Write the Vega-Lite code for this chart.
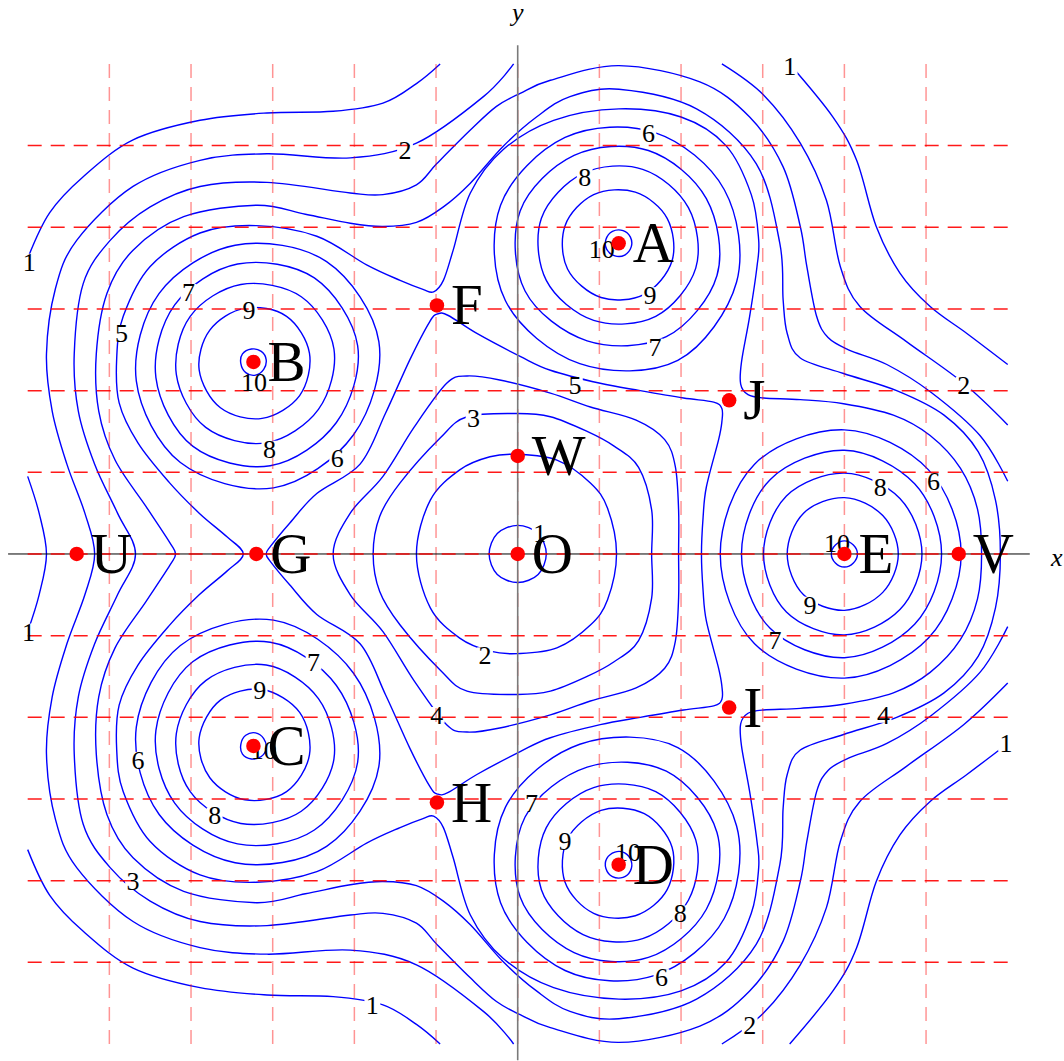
{
  "$schema": "https://vega.github.io/schema/vega-lite/v6.json",
  "width": 1064,
  "height": 1061,
  "padding": 0,
  "autosize": {"type": "none"},
  "background": "white",
  "config": {"view": {"stroke": null}},
  "datasets": {
    "closed": [
      {"c":"r1","x":0.35,"y":0},{"c":"r1","x":0.25,"y":0.25},{"c":"r1","x":0,"y":0.35},{"c":"r1","x":-0.25,"y":0.25},{"c":"r1","x":-0.35,"y":0},{"c":"r1","x":-0.25,"y":-0.25},{"c":"r1","x":0,"y":-0.35},{"c":"r1","x":0.25,"y":-0.25},

      {"c":"r2","x":1.21,"y":0},{"c":"r2","x":1.10,"y":0.56},{"c":"r2","x":0.89,"y":0.87},{"c":"r2","x":0.48,"y":1.15},{"c":"r2","x":0,"y":1.22},{"c":"r2","x":-0.34,"y":1.19},{"c":"r2","x":-0.71,"y":1.03},{"c":"r2","x":-1.07,"y":0.66},{"c":"r2","x":-1.24,"y":0},{"c":"r2","x":-1.07,"y":-0.66},{"c":"r2","x":-0.71,"y":-1.03},{"c":"r2","x":-0.34,"y":-1.19},{"c":"r2","x":0,"y":-1.22},{"c":"r2","x":0.48,"y":-1.15},{"c":"r2","x":0.89,"y":-0.87},{"c":"r2","x":1.10,"y":-0.56},

      {"c":"r3","x":1.64,"y":0},{"c":"r3","x":1.64,"y":0.54},{"c":"r3","x":1.48,"y":1.06},{"c":"r3","x":1.18,"y":1.32},{"c":"r3","x":0.85,"y":1.50},{"c":"r3","x":0.40,"y":1.68},{"c":"r3","x":0,"y":1.72},{"c":"r3","x":-0.62,"y":1.68},{"c":"r3","x":-0.95,"y":1.42},{"c":"r3","x":-1.44,"y":0.87},{"c":"r3","x":-1.69,"y":0.46},{"c":"r3","x":-1.77,"y":0},{"c":"r3","x":-1.69,"y":-0.46},{"c":"r3","x":-1.44,"y":-0.87},{"c":"r3","x":-0.95,"y":-1.42},{"c":"r3","x":-0.62,"y":-1.68},{"c":"r3","x":0,"y":-1.72},{"c":"r3","x":0.40,"y":-1.68},{"c":"r3","x":0.85,"y":-1.50},{"c":"r3","x":1.18,"y":-1.32},{"c":"r3","x":1.48,"y":-1.06},{"c":"r3","x":1.64,"y":-0.54},

      {"c":"r4","x":1.97,"y":0},{"c":"r4","x":1.97,"y":0.54},{"c":"r4","x":1.93,"y":1.07},{"c":"r4","x":1.80,"y":1.40},{"c":"r4","x":1.45,"y":1.64},{"c":"r4","x":0.89,"y":1.80},{"c":"r4","x":0.40,"y":1.97},{"c":"r4","x":-0.22,"y":2.13},{"c":"r4","x":-0.62,"y":2.18},{"c":"r4","x":-0.87,"y":2.09},{"c":"r4","x":-1.27,"y":1.55},{"c":"r4","x":-1.65,"y":0.95},{"c":"r4","x":-2.05,"y":0.50},{"c":"r4","x":-2.26,"y":0},{"c":"r4","x":-2.05,"y":-0.50},{"c":"r4","x":-1.65,"y":-0.95},{"c":"r4","x":-1.27,"y":-1.55},{"c":"r4","x":-0.87,"y":-2.09},{"c":"r4","x":-0.62,"y":-2.18},{"c":"r4","x":-0.22,"y":-2.13},{"c":"r4","x":0.40,"y":-1.97},{"c":"r4","x":0.89,"y":-1.80},{"c":"r4","x":1.45,"y":-1.64},{"c":"r4","x":1.80,"y":-1.40},{"c":"r4","x":1.93,"y":-1.07},{"c":"r4","x":1.97,"y":-0.54},

      {"c":"r5","x":2.25,"y":0},{"c":"r5","x":2.27,"y":0.45},{"c":"r5","x":2.31,"y":0.82},{"c":"r5","x":2.46,"y":1.40},{"c":"r5","x":2.50,"y":1.62},{"c":"r5","x":2.50,"y":1.78},{"c":"r5","x":2.40,"y":1.86},{"c":"r5","x":2.03,"y":1.91},{"c":"r5","x":1.50,"y":2.00},{"c":"r5","x":1.01,"y":2.09},{"c":"r5","x":0.40,"y":2.25},{"c":"r5","x":0.03,"y":2.42},{"c":"r5","x":-0.50,"y":2.70},{"c":"r5","x":-0.85,"y":2.92},{"c":"r5","x":-0.98,"y":2.94},{"c":"r5","x":-1.08,"y":2.84},{"c":"r5","x":-1.32,"y":2.38},{"c":"r5","x":-1.62,"y":1.72},{"c":"r5","x":-1.93,"y":1.10},{"c":"r5","x":-2.46,"y":0.74},{"c":"r5","x":-2.79,"y":0.38},{"c":"r5","x":-3.03,"y":0.09},{"c":"r5","x":-3.08,"y":0},{"c":"r5","x":-3.03,"y":-0.09},{"c":"r5","x":-2.79,"y":-0.38},{"c":"r5","x":-2.46,"y":-0.74},{"c":"r5","x":-1.93,"y":-1.10},{"c":"r5","x":-1.62,"y":-1.72},{"c":"r5","x":-1.32,"y":-2.38},{"c":"r5","x":-1.08,"y":-2.84},{"c":"r5","x":-0.98,"y":-2.94},{"c":"r5","x":-0.85,"y":-2.92},{"c":"r5","x":-0.50,"y":-2.70},{"c":"r5","x":0.03,"y":-2.42},{"c":"r5","x":0.40,"y":-2.25},{"c":"r5","x":1.01,"y":-2.09},{"c":"r5","x":1.50,"y":-2.00},{"c":"r5","x":2.03,"y":-1.91},{"c":"r5","x":2.40,"y":-1.86},{"c":"r5","x":2.50,"y":-1.78},{"c":"r5","x":2.50,"y":-1.62},{"c":"r5","x":2.46,"y":-1.40},{"c":"r5","x":2.31,"y":-0.82},{"c":"r5","x":2.27,"y":-0.45},

      {"c":"o5","x":5.68,"y":0},{"c":"o5","x":5.63,"y":0.55},{"c":"o5","x":5.42,"y":1.05},{"c":"o5","x":5.05,"y":1.45},{"c":"o5","x":4.60,"y":1.70},{"c":"o5","x":3.99,"y":1.84},{"c":"o5","x":3.46,"y":1.89},{"c":"o5","x":3.01,"y":1.91},{"c":"o5","x":2.82,"y":1.95},{"c":"o5","x":2.73,"y":2.08},{"c":"o5","x":2.74,"y":2.35},{"c":"o5","x":2.84,"y":2.91},{"c":"o5","x":2.93,"y":3.52},{"c":"o5","x":2.95,"y":3.85},{"c":"o5","x":2.86,"y":4.40},{"c":"o5","x":2.55,"y":5.00},{"c":"o5","x":2.00,"y":5.35},{"c":"o5","x":1.24,"y":5.45},{"c":"o5","x":0.44,"y":5.31},{"c":"o5","x":-0.18,"y":4.95},{"c":"o5","x":-0.58,"y":4.42},{"c":"o5","x":-0.79,"y":3.72},{"c":"o5","x":-0.91,"y":3.35},{"c":"o5","x":-1.03,"y":3.21},{"c":"o5","x":-1.16,"y":3.24},{"c":"o5","x":-1.44,"y":3.35},{"c":"o5","x":-1.85,"y":3.54},{"c":"o5","x":-2.46,"y":3.89},{"c":"o5","x":-3.20,"y":4.02},{"c":"o5","x":-3.89,"y":3.93},{"c":"o5","x":-4.50,"y":3.52},{"c":"o5","x":-4.83,"y":2.91},{"c":"o5","x":-4.91,"y":2.40},{"c":"o5","x":-4.88,"y":1.85},{"c":"o5","x":-4.65,"y":1.36},{"c":"o5","x":-4.27,"y":0.88},{"c":"o5","x":-3.90,"y":0.50},{"c":"o5","x":-3.56,"y":0.21},{"c":"o5","x":-3.36,"y":0},{"c":"o5","x":-3.56,"y":-0.21},{"c":"o5","x":-3.90,"y":-0.50},{"c":"o5","x":-4.27,"y":-0.88},{"c":"o5","x":-4.65,"y":-1.36},{"c":"o5","x":-4.88,"y":-1.85},{"c":"o5","x":-4.91,"y":-2.40},{"c":"o5","x":-4.83,"y":-2.91},{"c":"o5","x":-4.50,"y":-3.52},{"c":"o5","x":-3.89,"y":-3.93},{"c":"o5","x":-3.20,"y":-4.02},{"c":"o5","x":-2.46,"y":-3.89},{"c":"o5","x":-1.85,"y":-3.54},{"c":"o5","x":-1.44,"y":-3.35},{"c":"o5","x":-1.16,"y":-3.24},{"c":"o5","x":-1.03,"y":-3.21},{"c":"o5","x":-0.91,"y":-3.35},{"c":"o5","x":-0.79,"y":-3.72},{"c":"o5","x":-0.58,"y":-4.42},{"c":"o5","x":-0.18,"y":-4.95},{"c":"o5","x":0.44,"y":-5.31},{"c":"o5","x":1.24,"y":-5.45},{"c":"o5","x":2.00,"y":-5.35},{"c":"o5","x":2.55,"y":-5.00},{"c":"o5","x":2.86,"y":-4.40},{"c":"o5","x":2.95,"y":-3.85},{"c":"o5","x":2.93,"y":-3.52},{"c":"o5","x":2.84,"y":-2.91},{"c":"o5","x":2.74,"y":-2.35},{"c":"o5","x":2.73,"y":-2.08},{"c":"o5","x":2.82,"y":-1.95},{"c":"o5","x":3.01,"y":-1.91},{"c":"o5","x":3.46,"y":-1.89},{"c":"o5","x":3.99,"y":-1.84},{"c":"o5","x":4.60,"y":-1.70},{"c":"o5","x":5.05,"y":-1.45},{"c":"o5","x":5.42,"y":-1.05},{"c":"o5","x":5.63,"y":-0.55},

      {"c":"o4","x":5.91,"y":0},{"c":"o4","x":5.85,"y":0.66},{"c":"o4","x":5.64,"y":1.25},{"c":"o4","x":5.22,"y":1.70},{"c":"o4","x":4.64,"y":2.00},{"c":"o4","x":3.99,"y":2.21},{"c":"o4","x":3.46,"y":2.40},{"c":"o4","x":3.30,"y":2.70},{"c":"o4","x":3.25,"y":3.11},{"c":"o4","x":3.21,"y":3.80},{"c":"o4","x":2.92,"y":4.78},{"c":"o4","x":2.19,"y":5.45},{"c":"o4","x":1.24,"y":5.69},{"c":"o4","x":0.64,"y":5.60},{"c":"o4","x":0.23,"y":5.35},{"c":"o4","x":-0.18,"y":4.99},{"c":"o4","x":-0.58,"y":4.54},{"c":"o4","x":-0.91,"y":4.25},{"c":"o4","x":-1.24,"y":4.06},{"c":"o4","x":-1.65,"y":4.01},{"c":"o4","x":-2.05,"y":4.05},{"c":"o4","x":-2.60,"y":4.16},{"c":"o4","x":-3.20,"y":4.27},{"c":"o4","x":-4.09,"y":4.13},{"c":"o4","x":-4.71,"y":3.72},{"c":"o4","x":-5.03,"y":3.19},{"c":"o4","x":-5.16,"y":2.45},{"c":"o4","x":-5.13,"y":1.75},{"c":"o4","x":-4.93,"y":1.15},{"c":"o4","x":-4.55,"y":0.58},{"c":"o4","x":-4.26,"y":0.14},{"c":"o4","x":-4.19,"y":0},{"c":"o4","x":-4.26,"y":-0.14},{"c":"o4","x":-4.55,"y":-0.58},{"c":"o4","x":-4.93,"y":-1.15},{"c":"o4","x":-5.13,"y":-1.75},{"c":"o4","x":-5.16,"y":-2.45},{"c":"o4","x":-5.03,"y":-3.19},{"c":"o4","x":-4.71,"y":-3.72},{"c":"o4","x":-4.09,"y":-4.13},{"c":"o4","x":-3.20,"y":-4.27},{"c":"o4","x":-2.60,"y":-4.16},{"c":"o4","x":-2.05,"y":-4.05},{"c":"o4","x":-1.65,"y":-4.01},{"c":"o4","x":-1.24,"y":-4.06},{"c":"o4","x":-0.91,"y":-4.25},{"c":"o4","x":-0.58,"y":-4.54},{"c":"o4","x":-0.18,"y":-4.99},{"c":"o4","x":0.23,"y":-5.35},{"c":"o4","x":0.64,"y":-5.60},{"c":"o4","x":1.24,"y":-5.69},{"c":"o4","x":2.19,"y":-5.45},{"c":"o4","x":2.92,"y":-4.78},{"c":"o4","x":3.21,"y":-3.80},{"c":"o4","x":3.25,"y":-3.11},{"c":"o4","x":3.30,"y":-2.70},{"c":"o4","x":3.46,"y":-2.40},{"c":"o4","x":3.99,"y":-2.21},{"c":"o4","x":4.64,"y":-2.00},{"c":"o4","x":5.22,"y":-1.70},{"c":"o4","x":5.64,"y":-1.25},{"c":"o4","x":5.85,"y":-0.66},

      {"c":"e6","x":5.43,"y":0},{"c":"e6","x":5.03,"y":1.03},{"c":"e6","x":4,"y":1.52},{"c":"e6","x":2.90,"y":1.10},{"c":"e6","x":2.48,"y":0},{"c":"e6","x":2.90,"y":-1.10},{"c":"e6","x":4,"y":-1.52},{"c":"e6","x":5.03,"y":-1.03},
      {"c":"e7","x":5.19,"y":0},{"c":"e7","x":4.86,"y":0.86},{"c":"e7","x":4,"y":1.27},{"c":"e7","x":3.09,"y":0.91},{"c":"e7","x":2.74,"y":0},{"c":"e7","x":3.09,"y":-0.91},{"c":"e7","x":4,"y":-1.27},{"c":"e7","x":4.86,"y":-0.86},
      {"c":"e8","x":4.95,"y":0},{"c":"e8","x":4.68,"y":0.68},{"c":"e8","x":4,"y":0.99},{"c":"e8","x":3.29,"y":0.71},{"c":"e8","x":3.01,"y":0},{"c":"e8","x":3.29,"y":-0.71},{"c":"e8","x":4,"y":-0.99},{"c":"e8","x":4.68,"y":-0.68},
      {"c":"e9","x":4.66,"y":0},{"c":"e9","x":4.47,"y":0.47},{"c":"e9","x":4,"y":0.69},{"c":"e9","x":3.50,"y":0.50},{"c":"e9","x":3.30,"y":0},{"c":"e9","x":3.50,"y":-0.50},{"c":"e9","x":4,"y":-0.69},{"c":"e9","x":4.47,"y":-0.47},
      {"c":"e10","x":4.16,"y":0},{"c":"e10","x":4.11,"y":0.11},{"c":"e10","x":4,"y":0.16},{"c":"e10","x":3.89,"y":0.11},{"c":"e10","x":3.84,"y":0},{"c":"e10","x":3.89,"y":-0.11},{"c":"e10","x":4,"y":-0.16},{"c":"e10","x":4.11,"y":-0.11},

      {"c":"a6","x":1.68,"y":5.16},{"c":"a6","x":0.58,"y":5.10},{"c":"a6","x":-0.21,"y":4.27},{"c":"a6","x":-0.15,"y":3.10},{"c":"a6","x":0.76,"y":2.33},{"c":"a6","x":1.96,"y":2.37},{"c":"a6","x":2.68,"y":3.33},{"c":"a6","x":2.53,"y":4.46},
      {"c":"a7","x":1.60,"y":4.94},{"c":"a7","x":0.69,"y":4.88},{"c":"a7","x":0.03,"y":4.20},{"c":"a7","x":0.09,"y":3.22},{"c":"a7","x":0.85,"y":2.61},{"c":"a7","x":1.82,"y":2.66},{"c":"a7","x":2.44,"y":3.41},{"c":"a7","x":2.31,"y":4.35},
      {"c":"a8","x":1.53,"y":4.71},{"c":"a8","x":0.80,"y":4.66},{"c":"a8","x":0.29,"y":4.11},{"c":"a8","x":0.35,"y":3.35},{"c":"a8","x":0.93,"y":2.86},{"c":"a8","x":1.69,"y":2.91},{"c":"a8","x":2.18,"y":3.50},{"c":"a8","x":2.09,"y":4.24},
      {"c":"a9","x":1.44,"y":4.43},{"c":"a9","x":0.93,"y":4.40},{"c":"a9","x":0.58,"y":4.02},{"c":"a9","x":0.61,"y":3.49},{"c":"a9","x":1.02,"y":3.14},{"c":"a9","x":1.55,"y":3.18},{"c":"a9","x":1.89,"y":3.59},{"c":"a9","x":1.83,"y":4.11},
      {"c":"a10","x":1.29,"y":3.96},{"c":"a10","x":1.16,"y":3.95},{"c":"a10","x":1.08,"y":3.85},{"c":"a10","x":1.09,"y":3.73},{"c":"a10","x":1.19,"y":3.65},{"c":"a10","x":1.31,"y":3.66},{"c":"a10","x":1.39,"y":3.76},{"c":"a10","x":1.38,"y":3.88},

      {"c":"d6","x":1.68,"y":-5.16},{"c":"d6","x":0.58,"y":-5.10},{"c":"d6","x":-0.21,"y":-4.27},{"c":"d6","x":-0.15,"y":-3.10},{"c":"d6","x":0.76,"y":-2.33},{"c":"d6","x":1.96,"y":-2.37},{"c":"d6","x":2.68,"y":-3.33},{"c":"d6","x":2.53,"y":-4.46},
      {"c":"d7","x":1.60,"y":-4.94},{"c":"d7","x":0.69,"y":-4.88},{"c":"d7","x":0.03,"y":-4.20},{"c":"d7","x":0.09,"y":-3.22},{"c":"d7","x":0.85,"y":-2.61},{"c":"d7","x":1.82,"y":-2.66},{"c":"d7","x":2.44,"y":-3.41},{"c":"d7","x":2.31,"y":-4.35},
      {"c":"d8","x":1.53,"y":-4.71},{"c":"d8","x":0.80,"y":-4.66},{"c":"d8","x":0.29,"y":-4.11},{"c":"d8","x":0.35,"y":-3.35},{"c":"d8","x":0.93,"y":-2.86},{"c":"d8","x":1.69,"y":-2.91},{"c":"d8","x":2.18,"y":-3.50},{"c":"d8","x":2.09,"y":-4.24},
      {"c":"d9","x":1.44,"y":-4.43},{"c":"d9","x":0.93,"y":-4.40},{"c":"d9","x":0.58,"y":-4.02},{"c":"d9","x":0.61,"y":-3.49},{"c":"d9","x":1.02,"y":-3.14},{"c":"d9","x":1.55,"y":-3.18},{"c":"d9","x":1.89,"y":-3.59},{"c":"d9","x":1.83,"y":-4.11},
      {"c":"d10","x":1.29,"y":-3.96},{"c":"d10","x":1.16,"y":-3.95},{"c":"d10","x":1.08,"y":-3.85},{"c":"d10","x":1.09,"y":-3.73},{"c":"d10","x":1.19,"y":-3.65},{"c":"d10","x":1.31,"y":-3.66},{"c":"d10","x":1.39,"y":-3.76},{"c":"d10","x":1.38,"y":-3.88},

      {"c":"b6","x":-4.39,"y":3.19},{"c":"b6","x":-4.67,"y":2.12},{"c":"b6","x":-4.13,"y":1.12},{"c":"b6","x":-2.99,"y":0.81},{"c":"b6","x":-2.01,"y":1.46},{"c":"b6","x":-1.70,"y":2.60},{"c":"b6","x":-2.34,"y":3.58},{"c":"b6","x":-3.46,"y":3.78},
      {"c":"b7","x":-4.20,"y":3.05},{"c":"b7","x":-4.43,"y":2.16},{"c":"b7","x":-3.98,"y":1.32},{"c":"b7","x":-3.03,"y":1.08},{"c":"b7","x":-2.22,"y":1.61},{"c":"b7","x":-1.96,"y":2.55},{"c":"b7","x":-2.49,"y":3.38},{"c":"b7","x":-3.43,"y":3.55},
      {"c":"b8","x":-4.01,"y":2.91},{"c":"b8","x":-4.18,"y":2.20},{"c":"b8","x":-3.82,"y":1.55},{"c":"b8","x":-3.08,"y":1.36},{"c":"b8","x":-2.44,"y":1.77},{"c":"b8","x":-2.25,"y":2.51},{"c":"b8","x":-2.65,"y":3.15},{"c":"b8","x":-3.39,"y":3.30},
      {"c":"b9","x":-3.77,"y":2.74},{"c":"b9","x":-3.90,"y":2.25},{"c":"b9","x":-3.64,"y":1.79},{"c":"b9","x":-3.13,"y":1.66},{"c":"b9","x":-2.67,"y":1.94},{"c":"b9","x":-2.55,"y":2.46},{"c":"b9","x":-2.83,"y":2.91},{"c":"b9","x":-3.34,"y":3.01},
      {"c":"b10","x":-3.37,"y":2.45},{"c":"b10","x":-3.39,"y":2.33},{"c":"b10","x":-3.33,"y":2.22},{"c":"b10","x":-3.21,"y":2.19},{"c":"b10","x":-3.11,"y":2.26},{"c":"b10","x":-3.08,"y":2.38},{"c":"b10","x":-3.14,"y":2.48},{"c":"b10","x":-3.26,"y":2.51},

      {"c":"c6","x":-4.39,"y":-3.19},{"c":"c6","x":-4.67,"y":-2.12},{"c":"c6","x":-4.13,"y":-1.12},{"c":"c6","x":-2.99,"y":-0.81},{"c":"c6","x":-2.01,"y":-1.46},{"c":"c6","x":-1.70,"y":-2.60},{"c":"c6","x":-2.34,"y":-3.58},{"c":"c6","x":-3.46,"y":-3.78},
      {"c":"c7","x":-4.20,"y":-3.05},{"c":"c7","x":-4.43,"y":-2.16},{"c":"c7","x":-3.98,"y":-1.32},{"c":"c7","x":-3.03,"y":-1.08},{"c":"c7","x":-2.22,"y":-1.61},{"c":"c7","x":-1.96,"y":-2.55},{"c":"c7","x":-2.49,"y":-3.38},{"c":"c7","x":-3.43,"y":-3.55},
      {"c":"c8","x":-4.01,"y":-2.91},{"c":"c8","x":-4.18,"y":-2.20},{"c":"c8","x":-3.82,"y":-1.55},{"c":"c8","x":-3.08,"y":-1.36},{"c":"c8","x":-2.44,"y":-1.77},{"c":"c8","x":-2.25,"y":-2.51},{"c":"c8","x":-2.65,"y":-3.15},{"c":"c8","x":-3.39,"y":-3.30},
      {"c":"c9","x":-3.77,"y":-2.74},{"c":"c9","x":-3.90,"y":-2.25},{"c":"c9","x":-3.64,"y":-1.79},{"c":"c9","x":-3.13,"y":-1.66},{"c":"c9","x":-2.67,"y":-1.94},{"c":"c9","x":-2.55,"y":-2.46},{"c":"c9","x":-2.83,"y":-2.91},{"c":"c9","x":-3.34,"y":-3.01},
      {"c":"c10","x":-3.37,"y":-2.45},{"c":"c10","x":-3.39,"y":-2.33},{"c":"c10","x":-3.33,"y":-2.22},{"c":"c10","x":-3.21,"y":-2.19},{"c":"c10","x":-3.11,"y":-2.26},{"c":"c10","x":-3.08,"y":-2.38},{"c":"c10","x":-3.14,"y":-2.48},{"c":"c10","x":-3.26,"y":-2.51}
    ],
    "open": [
      {"c":"l3","x":6.0,"y":0.89},{"c":"l3","x":5.66,"y":1.45},{"c":"l3","x":5.06,"y":1.98},{"c":"l3","x":4.52,"y":2.32},{"c":"l3","x":4.05,"y":2.50},{"c":"l3","x":3.80,"y":2.65},{"c":"l3","x":3.66,"y":2.91},{"c":"l3","x":3.54,"y":3.52},{"c":"l3","x":3.46,"y":4.01},{"c":"l3","x":3.25,"y":4.74},{"c":"l3","x":2.84,"y":5.35},{"c":"l3","x":2.23,"y":5.78},{"c":"l3","x":1.24,"y":5.98},{"c":"l3","x":0.40,"y":5.80},{"c":"l3","x":0.03,"y":5.64},{"c":"l3","x":-0.26,"y":5.48},{"c":"l3","x":-0.58,"y":5.19},{"c":"l3","x":-0.99,"y":4.78},{"c":"l3","x":-1.24,"y":4.52},{"c":"l3","x":-1.65,"y":4.40},{"c":"l3","x":-2.05,"y":4.42},{"c":"l3","x":-3.07,"y":4.55},{"c":"l3","x":-3.89,"y":4.50},{"c":"l3","x":-4.50,"y":4.25},{"c":"l3","x":-4.99,"y":3.84},{"c":"l3","x":-5.32,"y":3.31},{"c":"l3","x":-5.43,"y":2.45},{"c":"l3","x":-5.38,"y":1.75},{"c":"l3","x":-5.18,"y":1.10},{"c":"l3","x":-4.90,"y":0.50},{"c":"l3","x":-4.68,"y":0},{"c":"l3","x":-4.90,"y":-0.50},{"c":"l3","x":-5.18,"y":-1.10},{"c":"l3","x":-5.38,"y":-1.75},{"c":"l3","x":-5.43,"y":-2.45},{"c":"l3","x":-5.32,"y":-3.31},{"c":"l3","x":-4.99,"y":-3.84},{"c":"l3","x":-4.50,"y":-4.25},{"c":"l3","x":-3.89,"y":-4.50},{"c":"l3","x":-3.07,"y":-4.55},{"c":"l3","x":-2.05,"y":-4.42},{"c":"l3","x":-1.65,"y":-4.40},{"c":"l3","x":-1.24,"y":-4.52},{"c":"l3","x":-0.99,"y":-4.78},{"c":"l3","x":-0.58,"y":-5.19},{"c":"l3","x":-0.26,"y":-5.48},{"c":"l3","x":0.03,"y":-5.64},{"c":"l3","x":0.40,"y":-5.80},{"c":"l3","x":1.24,"y":-5.98},{"c":"l3","x":2.23,"y":-5.78},{"c":"l3","x":2.84,"y":-5.35},{"c":"l3","x":3.25,"y":-4.74},{"c":"l3","x":3.46,"y":-4.01},{"c":"l3","x":3.54,"y":-3.52},{"c":"l3","x":3.66,"y":-2.91},{"c":"l3","x":3.80,"y":-2.65},{"c":"l3","x":4.05,"y":-2.50},{"c":"l3","x":4.52,"y":-2.32},{"c":"l3","x":5.06,"y":-1.98},{"c":"l3","x":5.66,"y":-1.45},{"c":"l3","x":6.0,"y":-0.89},

      {"c":"l2l","x":-0.05,"y":6.0},{"c":"l2l","x":-0.42,"y":5.60},{"c":"l2l","x":-1.24,"y":5.03},{"c":"l2l","x":-2.05,"y":4.85},{"c":"l2l","x":-3.07,"y":4.90},{"c":"l2l","x":-3.89,"y":4.82},{"c":"l2l","x":-4.71,"y":4.50},{"c":"l2l","x":-5.40,"y":3.84},{"c":"l2l","x":-5.66,"y":3.25},{"c":"l2l","x":-5.77,"y":2.45},{"c":"l2l","x":-5.70,"y":1.75},{"c":"l2l","x":-5.52,"y":1.10},{"c":"l2l","x":-5.30,"y":0.50},{"c":"l2l","x":-5.18,"y":0},{"c":"l2l","x":-5.30,"y":-0.50},{"c":"l2l","x":-5.52,"y":-1.10},{"c":"l2l","x":-5.70,"y":-1.75},{"c":"l2l","x":-5.77,"y":-2.45},{"c":"l2l","x":-5.66,"y":-3.25},{"c":"l2l","x":-5.40,"y":-3.84},{"c":"l2l","x":-4.71,"y":-4.50},{"c":"l2l","x":-3.89,"y":-4.82},{"c":"l2l","x":-3.07,"y":-4.90},{"c":"l2l","x":-2.05,"y":-4.85},{"c":"l2l","x":-1.24,"y":-5.03},{"c":"l2l","x":-0.42,"y":-5.60},{"c":"l2l","x":-0.05,"y":-6.0},

      {"c":"l2tr","x":2.50,"y":6.0},{"c":"l2tr","x":3.01,"y":5.62},{"c":"l2tr","x":3.46,"y":5.03},{"c":"l2tr","x":3.78,"y":4.33},{"c":"l2tr","x":3.95,"y":3.52},{"c":"l2tr","x":4.19,"y":3.03},{"c":"l2tr","x":4.76,"y":2.60},{"c":"l2tr","x":5.46,"y":2.09},{"c":"l2tr","x":6.0,"y":1.58},
      {"c":"l2br","x":2.50,"y":-6.0},{"c":"l2br","x":3.01,"y":-5.62},{"c":"l2br","x":3.46,"y":-5.03},{"c":"l2br","x":3.78,"y":-4.33},{"c":"l2br","x":3.95,"y":-3.52},{"c":"l2br","x":4.19,"y":-3.03},{"c":"l2br","x":4.76,"y":-2.60},{"c":"l2br","x":5.46,"y":-2.09},{"c":"l2br","x":6.0,"y":-1.58},

      {"c":"l1tl","x":-6.0,"y":3.62},{"c":"l1tl","x":-5.73,"y":4.18},{"c":"l1tl","x":-5.32,"y":4.62},{"c":"l1tl","x":-4.71,"y":5.07},{"c":"l1tl","x":-3.89,"y":5.31},{"c":"l1tl","x":-3.07,"y":5.40},{"c":"l1tl","x":-2.26,"y":5.42},{"c":"l1tl","x":-1.65,"y":5.52},{"c":"l1tl","x":-1.24,"y":5.76},{"c":"l1tl","x":-0.95,"y":6.0},
      {"c":"l1bl","x":-6.0,"y":-3.62},{"c":"l1bl","x":-5.73,"y":-4.18},{"c":"l1bl","x":-5.32,"y":-4.62},{"c":"l1bl","x":-4.71,"y":-5.07},{"c":"l1bl","x":-3.89,"y":-5.31},{"c":"l1bl","x":-3.07,"y":-5.40},{"c":"l1bl","x":-2.26,"y":-5.42},{"c":"l1bl","x":-1.65,"y":-5.52},{"c":"l1bl","x":-1.24,"y":-5.76},{"c":"l1bl","x":-0.95,"y":-6.0},
      {"c":"l1l","x":-6.0,"y":0.95},{"c":"l1l","x":-5.86,"y":0.5},{"c":"l1l","x":-5.77,"y":0},{"c":"l1l","x":-5.86,"y":-0.5},{"c":"l1l","x":-6.0,"y":-0.95},
      {"c":"l1tr","x":3.33,"y":6.0},{"c":"l1tr","x":3.86,"y":5.35},{"c":"l1tr","x":4.15,"y":4.82},{"c":"l1tr","x":4.39,"y":4.01},{"c":"l1tr","x":4.68,"y":3.44},{"c":"l1tr","x":5.05,"y":3.03},{"c":"l1tr","x":5.50,"y":2.70},{"c":"l1tr","x":6.0,"y":2.32},
      {"c":"l1br","x":3.33,"y":-6.0},{"c":"l1br","x":3.86,"y":-5.35},{"c":"l1br","x":4.15,"y":-4.82},{"c":"l1br","x":4.39,"y":-4.01},{"c":"l1br","x":4.68,"y":-3.44},{"c":"l1br","x":5.05,"y":-3.03},{"c":"l1br","x":5.50,"y":-2.70},{"c":"l1br","x":6.0,"y":-2.32}
    ],
    "nums": [
      {"t":"1","x":-5.98,"y":3.58},{"t":"2","x":-1.38,"y":4.95},{"t":"7","x":-4.03,"y":3.21},{"t":"5","x":-4.85,"y":2.70},{"t":"9","x":-3.29,"y":2.99},{"t":"10","x":-3.23,"y":2.11},{"t":"8","x":-3.04,"y":1.29},{"t":"6","x":-2.21,"y":1.17},
      {"t":"8","x":0.82,"y":4.62},{"t":"6","x":1.60,"y":5.15},{"t":"10","x":1.03,"y":3.73},{"t":"9","x":1.62,"y":3.17},{"t":"7","x":1.68,"y":2.54},{"t":"5","x":0.70,"y":2.07},{"t":"3","x":-0.54,"y":1.66},{"t":"1","x":3.33,"y":5.97},
      {"t":"2","x":5.46,"y":2.07},{"t":"6","x":5.09,"y":0.89},{"t":"8","x":4.44,"y":0.82},{"t":"10","x":3.91,"y":0.13},{"t":"9","x":3.58,"y":-0.62},{"t":"7","x":3.15,"y":-1.05},{"t":"4","x":4.48,"y":-1.97},{"t":"1","x":5.98,"y":-2.32},
      {"t":"1","x":0.27,"y":0.26},{"t":"2","x":-0.40,"y":-1.24},
      {"t":"1","x":-5.99,"y":-0.95},{"t":"7","x":-2.50,"y":-1.32},{"t":"9","x":-3.16,"y":-1.67},{"t":"10","x":-3.11,"y":-2.40},{"t":"6","x":-4.65,"y":-2.52},{"t":"8","x":-3.71,"y":-3.20},{"t":"3","x":-4.71,"y":-4.01},{"t":"4","x":-0.99,"y":-1.97},
      {"t":"7","x":0.17,"y":-3.05},{"t":"9","x":0.58,"y":-3.52},{"t":"10","x":1.35,"y":-3.65},{"t":"8","x":1.99,"y":-4.40},{"t":"6","x":1.76,"y":-5.18},{"t":"1","x":-1.78,"y":-5.52},{"t":"2","x":2.84,"y":-5.77}
    ],
    "pts": [
      {"n":"O","x":0,"y":0},{"n":"W","x":0,"y":1.2},{"n":"A","x":1.236,"y":3.804},{"n":"B","x":-3.236,"y":2.351},{"n":"C","x":-3.236,"y":-2.351},{"n":"D","x":1.236,"y":-3.804},{"n":"E","x":4,"y":0},{"n":"F","x":-0.989,"y":3.043},{"n":"G","x":-3.2,"y":0},{"n":"H","x":-0.989,"y":-3.043},{"n":"I","x":2.589,"y":-1.881},{"n":"J","x":2.589,"y":1.881},{"n":"U","x":-5.4,"y":0},{"n":"V","x":5.4,"y":0}
    ],
    "grid": [{"g":-5},{"g":-4},{"g":-3},{"g":-2},{"g":-1},{"g":0},{"g":1},{"g":2},{"g":3},{"g":4},{"g":5}],
    "axisnames": [{"n":"x","x":6.6,"y":-0.15},{"n":"y","x":0,"y":6.52}]
  },
  "layer": [
    {
      "data": {"name": "closed"},
      "mark": {"type": "line", "interpolate": "cardinal-closed", "color": "#0000ff", "strokeWidth": 1.4},
      "encoding": {
        "x": {"field": "x", "type": "quantitative", "scale": {"domain": [-6.339, 6.689], "nice": false, "zero": false}, "axis": null},
        "y": {"field": "y", "type": "quantitative", "scale": {"domain": [-6.208, 6.783], "nice": false, "zero": false}, "axis": null},
        "detail": {"field": "c"},
        "order": {"value": null}
      }
    },
    {
      "data": {"name": "open"},
      "mark": {"type": "line", "interpolate": "cardinal", "color": "#0000ff", "strokeWidth": 1.4},
      "encoding": {
        "x": {"field": "x", "type": "quantitative", "scale": {"domain": [-6.339, 6.689], "nice": false, "zero": false}, "axis": null},
        "y": {"field": "y", "type": "quantitative", "scale": {"domain": [-6.208, 6.783], "nice": false, "zero": false}, "axis": null},
        "detail": {"field": "c"},
        "order": {"value": null}
      }
    },
    {
      "data": {"name": "nums"},
      "transform": [{"filter": "datum.t != '10'"}],
      "mark": {"type": "point", "shape": "square", "filled": true, "color": "white", "opacity": 1, "size": 250, "strokeWidth": 0},
      "encoding": {
        "x": {"field": "x", "type": "quantitative", "scale": {"domain": [-6.339, 6.689], "nice": false, "zero": false}, "axis": null},
        "y": {"field": "y", "type": "quantitative", "scale": {"domain": [-6.208, 6.783], "nice": false, "zero": false}, "axis": null}
      }
    },
    {
      "data": {"name": "grid"},
      "mark": {"type": "rule", "color": "#ff0000", "opacity": 0.42, "strokeWidth": 1.5, "strokeDash": [14, 9]},
      "encoding": {
        "x": {"field": "g", "type": "quantitative", "scale": {"domain": [-6.339, 6.689], "nice": false, "zero": false}, "axis": null},
        "y": {"datum": 6, "type": "quantitative", "scale": {"domain": [-6.208, 6.783], "nice": false, "zero": false}, "axis": null},
        "y2": {"datum": -6}
      }
    },
    {
      "data": {"values": [{}]},
      "mark": {"type": "rule", "color": "#000000", "strokeWidth": 1},
      "encoding": {
        "x": {"datum": -6.24, "type": "quantitative", "scale": {"domain": [-6.339, 6.689], "nice": false, "zero": false}, "axis": null},
        "x2": {"datum": 6.27},
        "y": {"datum": 0, "type": "quantitative", "scale": {"domain": [-6.208, 6.783], "nice": false, "zero": false}, "axis": null}
      }
    },
    {
      "data": {"values": [{}]},
      "mark": {"type": "rule", "color": "#7a7a7a", "strokeWidth": 1.6},
      "encoding": {
        "x": {"datum": 0, "type": "quantitative", "scale": {"domain": [-6.339, 6.689], "nice": false, "zero": false}, "axis": null},
        "y": {"datum": 6.23, "type": "quantitative", "scale": {"domain": [-6.208, 6.783], "nice": false, "zero": false}, "axis": null},
        "y2": {"datum": -6.2}
      }
    },
    {
      "data": {"name": "grid"},
      "mark": {"type": "rule", "color": "#ff0000", "opacity": 0.9, "strokeWidth": 1.5, "strokeDash": [14, 9]},
      "encoding": {
        "y": {"field": "g", "type": "quantitative", "scale": {"domain": [-6.208, 6.783], "nice": false, "zero": false}, "axis": null},
        "x": {"datum": -6, "type": "quantitative", "scale": {"domain": [-6.339, 6.689], "nice": false, "zero": false}, "axis": null},
        "x2": {"datum": 6}
      }
    },
    {
      "data": {"name": "nums"},
      "mark": {"type": "text", "font": "Liberation Serif, Times New Roman, serif", "fontSize": 26, "align": "center", "baseline": "alphabetic", "dy": 9, "color": "#000000"},
      "encoding": {
        "x": {"field": "x", "type": "quantitative", "scale": {"domain": [-6.339, 6.689], "nice": false, "zero": false}, "axis": null},
        "y": {"field": "y", "type": "quantitative", "scale": {"domain": [-6.208, 6.783], "nice": false, "zero": false}, "axis": null},
        "text": {"field": "t"}
      }
    },
    {
      "data": {"name": "pts"},
      "mark": {"type": "circle", "color": "#ff0000", "opacity": 1, "size": 210},
      "encoding": {
        "x": {"field": "x", "type": "quantitative", "scale": {"domain": [-6.339, 6.689], "nice": false, "zero": false}, "axis": null},
        "y": {"field": "y", "type": "quantitative", "scale": {"domain": [-6.208, 6.783], "nice": false, "zero": false}, "axis": null}
      }
    },
    {
      "data": {"name": "pts"},
      "mark": {"type": "text", "font": "Liberation Serif, Times New Roman, serif", "fontSize": 57, "align": "left", "baseline": "alphabetic", "dx": 14, "dy": 19, "color": "#000000"},
      "encoding": {
        "x": {"field": "x", "type": "quantitative", "scale": {"domain": [-6.339, 6.689], "nice": false, "zero": false}, "axis": null},
        "y": {"field": "y", "type": "quantitative", "scale": {"domain": [-6.208, 6.783], "nice": false, "zero": false}, "axis": null},
        "text": {"field": "n"}
      }
    },
    {
      "data": {"name": "axisnames"},
      "mark": {"type": "text", "font": "Liberation Serif, Times New Roman, serif", "fontStyle": "italic", "fontSize": 26, "align": "center", "baseline": "alphabetic", "color": "#000000"},
      "encoding": {
        "x": {"field": "x", "type": "quantitative", "scale": {"domain": [-6.339, 6.689], "nice": false, "zero": false}, "axis": null},
        "y": {"field": "y", "type": "quantitative", "scale": {"domain": [-6.208, 6.783], "nice": false, "zero": false}, "axis": null},
        "text": {"field": "n"}
      }
    }
  ]
}
